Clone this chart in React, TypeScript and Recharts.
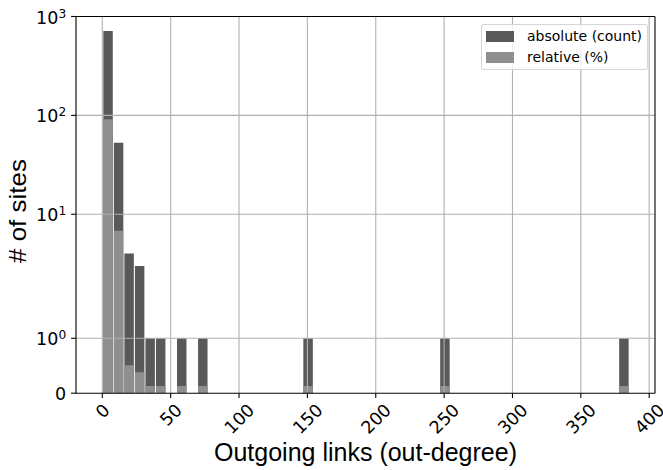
import React from 'react';
import { BarChart, Bar, XAxis, YAxis, ReferenceLine, Legend, Label } from 'recharts';

// histogram of out-degree, 50 bins over 0..385
const BIN_WIDTH = 7.7;

const COUNTS = [
  713, 53, 4, 3, 1, 1, 0, 1, 0, 1,
  0, 0, 0, 0, 0, 0, 0, 0, 0, 1,
  0, 0, 0, 0, 0, 0, 0, 0, 0, 0,
  0, 0, 1, 0, 0, 0, 0, 0, 0, 0,
  0, 0, 0, 0, 0, 0, 0, 0, 0, 1,
];

const PERCENT = [
  91.4, 6.8, 0.51, 0.38, 0.13, 0.13, 0, 0.13, 0, 0.13,
  0, 0, 0, 0, 0, 0, 0, 0, 0, 0.13,
  0, 0, 0, 0, 0, 0, 0, 0, 0, 0,
  0, 0, 0.13, 0, 0, 0, 0, 0, 0, 0,
  0, 0, 0, 0, 0, 0, 0, 0, 0, 0.13,
];

const X_TICKS = [0, 50, 100, 150, 200, 250, 300, 350, 400];
const Y_TICKS = [0, 1, 10, 100, 1000];
const Y_TICK_LABELS = [['0', ''], ['10', '0'], ['10', '1'], ['10', '2'], ['10', '3']];
const SERIES_NAMES = ['absolute (count)', 'relative (%)'];

const DARK = '#595959';
const LIGHT = '#8f8f8f';
const GRID = '#b0b0b0';
const TICK_FONT = 17.5;

// matplotlib-style symlog (linthresh 2, linscale 1, base 10)
const LINTHRESH = 2;
const LINSCALE_ADJ = 1 / (1 - 1 / 10);
const symlog = (v: number) =>
  v <= LINTHRESH ? (v / LINTHRESH) * LINSCALE_ADJ : LINSCALE_ADJ + Math.log10(v / LINTHRESH);

const X_MIN = -19.25;
const X_MAX = 404.25;
const Y_MAX = symlog(1000);

const PLOT_LEFT = 76;
const PLOT_RIGHT = 655;
const BAR_SIZE = (BIN_WIDTH * (PLOT_RIGHT - PLOT_LEFT)) / (X_MAX - X_MIN);

const rows = COUNTS.map((c, i) => ({
  x: (i + 0.5) * BIN_WIDTH,
  count: symlog(c),
  percent: symlog(PERCENT[i]),
}));

const yTickValues = Y_TICKS.map(symlog);

function XTick(props: any) {
  const { x, y, payload } = props;
  const s = String(payload.value);
  const inkW = s.length * 0.636 * TICK_FONT - 0.14 * TICK_FONT;
  const inkH = 0.74 * TICK_FONT;
  const cy = y + ((inkW + inkH) * Math.SQRT1_2) / 2;
  return (
    <text
      x={x}
      y={cy}
      dy={0.37 * TICK_FONT}
      textAnchor="middle"
      fontFamily="DejaVu Sans"
      fontSize={TICK_FONT}
      fill="#000"
      transform={`rotate(-45, ${x}, ${cy})`}
    >
      {s}
    </text>
  );
}

function YTick(props: any) {
  const { x, y, payload } = props;
  const idx = yTickValues.findIndex((v) => Math.abs(v - payload.value) < 1e-6);
  const [base, exp] = Y_TICK_LABELS[idx] ?? [String(payload.value), ''];
  return (
    <text
      x={x}
      y={y + (exp ? 7 : 6.5)}
      textAnchor="end"
      fontFamily="DejaVu Sans"
      fontSize={TICK_FONT}
      fill="#000"
    >
      <tspan>{base}</tspan>
      {exp && (
        <tspan dy={-6} fontSize={12.25}>
          {exp}
        </tspan>
      )}
    </text>
  );
}

function YLabel() {
  return (
    <text
      transform="translate(26, 211) rotate(-90) scale(1, 0.9)"
      textAnchor="middle"
      fontFamily="Liberation Sans"
      fontSize={26}
      fill="#000"
    >
      # of sites
    </text>
  );
}

function LegendBox() {
  const colors = [DARK, LIGHT];
  return (
    <div
      style={{
        position: 'relative',
        boxSizing: 'border-box',
        width: 167,
        height: 46,
        border: '1px solid rgba(204,204,204,0.8)',
        borderRadius: 3,
        background: 'rgba(255,255,255,0.8)',
        fontFamily: 'DejaVu Sans',
        fontSize: 14,
      }}
    >
      {SERIES_NAMES.map((name, i) => (
        <div key={name}>
          <div
            style={{
              position: 'absolute',
              left: 4,
              top: 6 + i * 20.5,
              width: 28,
              height: 11,
              background: colors[i],
            }}
          />
          <div
            style={{
              position: 'absolute',
              left: 45,
              top: 3 + i * 20.5,
              lineHeight: '17px',
              whiteSpace: 'nowrap',
              color: '#000',
            }}
          >
            {name}
          </div>
        </div>
      ))}
    </div>
  );
}

export default function App() {
  return (
    <div style={{ position: 'absolute', left: 0, top: 0, background: '#fff' }}>
      <BarChart
        width={663}
        height={470}
        data={rows}
        margin={{ top: 16.5, right: 663 - PLOT_RIGHT, left: 0, bottom: 0 }}
        barGap={0}
        barCategoryGap={0}
      >
        <XAxis
          xAxisId="abs"
          type="number"
          dataKey="x"
          domain={[X_MIN, X_MAX]}
          ticks={X_TICKS}
          interval={0}
          allowDataOverflow
          height={76.8}
          tickSize={4.9}
          tickMargin={4.9}
          axisLine={{ stroke: '#000', strokeWidth: 1.1 }}
          tickLine={{ stroke: '#000', strokeWidth: 1.1 }}
          tick={<XTick />}
        >
          <Label
            value="Outgoing links (out-degree)"
            position="insideBottom"
            offset={9}
            fontFamily="Liberation Sans"
            fontSize={25}
            fill="#000"
          />
        </XAxis>
        <XAxis xAxisId="rel" type="number" dataKey="x" domain={[X_MIN, X_MAX]} allowDataOverflow hide />
        <YAxis
          type="number"
          domain={[0, Y_MAX]}
          ticks={yTickValues}
          interval={0}
          allowDataOverflow
          width={PLOT_LEFT}
          tickSize={4.9}
          tickMargin={4.9}
          axisLine={{ stroke: '#000', strokeWidth: 1.1 }}
          tickLine={{ stroke: '#000', strokeWidth: 1.1 }}
          tick={<YTick />}
        >
          <Label content={() => <YLabel />} />
        </YAxis>
        <Bar xAxisId="abs" dataKey="count" fill={DARK} barSize={BAR_SIZE} isAnimationActive={false} />
        <Bar xAxisId="rel" dataKey="percent" fill={LIGHT} barSize={BAR_SIZE} isAnimationActive={false} />
        {X_TICKS.map((t) => (
          <ReferenceLine key={'v' + t} xAxisId="abs" x={t} stroke={GRID} strokeWidth={1.1} />
        ))}
        {[1, 10, 100].map((t) => (
          <ReferenceLine key={'h' + t} xAxisId="abs" y={symlog(t)} stroke={GRID} strokeWidth={1.1} />
        ))}
        <ReferenceLine xAxisId="abs" y={Y_MAX} stroke="#000" strokeWidth={1.1} />
        <ReferenceLine xAxisId="abs" x={X_MAX} stroke="#000" strokeWidth={1.1} />
        <Legend
          layout="vertical"
          align="center"
          verticalAlign="middle"
          wrapperStyle={{ left: 481, top: 24, width: 167, height: 46 }}
          content={() => <LegendBox />}
        />
      </BarChart>
    </div>
  );
}
